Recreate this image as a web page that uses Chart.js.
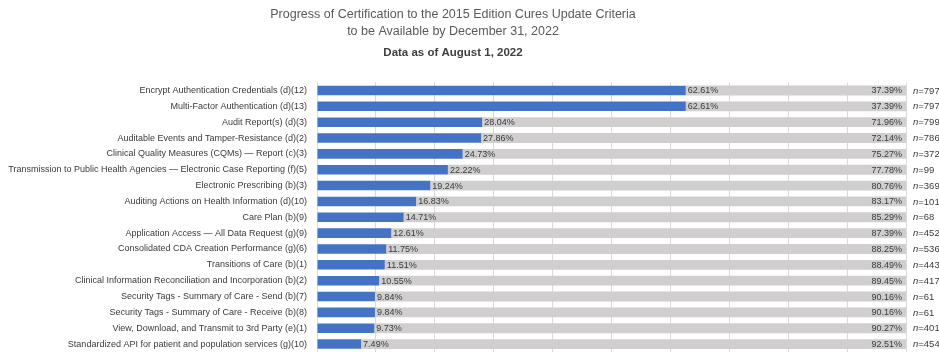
<!DOCTYPE html>
<html>
<head>
<meta charset="utf-8">
<script src="https://cdn.jsdelivr.net/npm/chart.js@4/dist/chart.umd.min.js"></script>
<style>
    html, body { margin: 0; padding: 0; background: #ffffff; }
    #wrap { position: relative; width: 939px; height: 352px; }
</style>
</head>
<body>
<div id="wrap"><canvas id="graph"></canvas></div>
<script>
const criteria = [
    "Encrypt Authentication Credentials (d)(12)",
    "Multi-Factor Authentication (d)(13)",
    "Audit Report(s) (d)(3)",
    "Auditable Events and Tamper-Resistance (d)(2)",
    "Clinical Quality Measures (CQMs) \u2014 Report (c)(3)",
    "Transmission to Public Health Agencies \u2014 Electronic Case Reporting (f)(5)",
    "Electronic Prescribing (b)(3)",
    "Auditing Actions on Health Information (d)(10)",
    "Care Plan (b)(9)",
    "Application Access \u2014 All Data Request (g)(9)",
    "Consolidated CDA Creation Performance (g)(6)",
    "Transitions of Care (b)(1)",
    "Clinical Information Reconciliation and Incorporation (b)(2)",
    "Security Tags - Summary of Care - Send (b)(7)",
    "Security Tags - Summary of Care - Receive (b)(8)",
    "View, Download, and Transmit to 3rd Party (e)(1)",
    "Standardized API for patient and population services (g)(10)"
];

// percent certified to the update
const certified = [62.61, 62.61, 28.04, 27.86, 24.73, 22.22, 19.24, 16.83, 14.71, 12.61, 11.75, 11.51, 10.55, 9.84, 9.84, 9.73, 7.49];
// percent not yet
const remaining = [37.39, 37.39, 71.96, 72.14, 75.27, 77.78, 80.76, 83.17, 85.29, 87.39, 88.25, 88.49, 89.45, 90.16, 90.16, 90.27, 92.51];
// number of products
const counts = [797, 797, 799, 786, 372, 99, 369, 101, 68, 452, 536, 443, 417, 61, 61, 401, 454];

const FONT = "'Liberation Sans', Arial, sans-serif";

// draws the % labels and the n= labels next to the bars
const barLabels = {
    id: 'barLabels',
    afterDatasetsDraw(chart) {
        const ctx = chart.ctx;
        const blue = chart.getDatasetMeta(0).data;
        const grey = chart.getDatasetMeta(1).data;
        ctx.save();
        ctx.fillStyle = '#3a3a3a';
        ctx.textBaseline = 'middle';
        for (let i = 0; i < blue.length; i++) {
            ctx.font = '9px ' + FONT;
            ctx.textAlign = 'left';
            ctx.fillText(certified[i].toFixed(2) + '%', blue[i].x + 2, blue[i].y + 0.5);
            ctx.textAlign = 'right';
            ctx.fillText(remaining[i].toFixed(2) + '%', grey[i].x - 4, grey[i].y + 0.5);

            // italic n then =count
            ctx.textAlign = 'left';
            let x = grey[i].x + 7;
            ctx.font = 'italic 9.5px ' + FONT;
            ctx.fillText('n', x, grey[i].y + 0.5);
            x += ctx.measureText('n').width;
            ctx.font = '9.5px ' + FONT;
            ctx.fillText('=' + counts[i], x, grey[i].y + 0.5);
        }
        ctx.restore();
    }
};

const ctx = document.getElementById('graph').getContext('2d');

const myChart = new Chart(ctx, {
    type: 'bar',
    data: {
        labels: criteria,
        datasets: [{
            label: 'Certified',
            data: certified,
            backgroundColor: '#4472C4',
            barPercentage: 0.6,
            categoryPercentage: 1
        }, {
            label: 'Not yet certified',
            data: remaining,
            backgroundColor: '#D0CECE',
            barPercentage: 0.62,
            categoryPercentage: 1
        }]
    },
    options: {
        indexAxis: 'y',
        responsive: true,
        maintainAspectRatio: false,
        animation: false,
        layout: {
            padding: { left: 0, right: 33, top: 0, bottom: 0 }
        },
        plugins: {
            legend: { display: false },
            tooltip: { enabled: false },
            title: {
                display: true,
                text: ['Progress of Certification to the 2015 Edition Cures Update Criteria',
                    'to be Available by December 31, 2022'],
                color: '#595959',
                font: { family: FONT, size: 12.5, weight: 'normal', lineHeight: 1.35 },
                padding: { top: 6, bottom: 6 }
            },
            subtitle: {
                display: true,
                text: 'Data as of August 1, 2022',
                color: '#404040',
                font: { family: FONT, size: 11.5, weight: 'bold', lineHeight: 1.2 },
                padding: { top: 0, bottom: 23 }
            }
        },
        scales: {
            x: {
                stacked: true,
                min: 0,
                max: 100,
                afterFit(scale) {
                    scale.height = 0;
                },
                ticks: { display: false, stepSize: 10 },
                grid: { color: '#D9D9D9', drawTicks: false },
                border: { display: false }
            },
            y: {
                stacked: true,
                afterFit(scale) {
                    // fixed label column, no extra room above/below
                    scale.width = 317;
                    scale.paddingTop = 0;
                    scale.paddingBottom = 0;
                },
                ticks: {
                    color: '#3a3a3a',
                    font: { family: FONT, size: 9 },
                    padding: 10,
                    autoSkip: false
                },
                grid: { display: false, drawTicks: false },
                border: { display: false }
            }
        }
    },
    plugins: [barLabels]
});
</script>
</body>
</html>
